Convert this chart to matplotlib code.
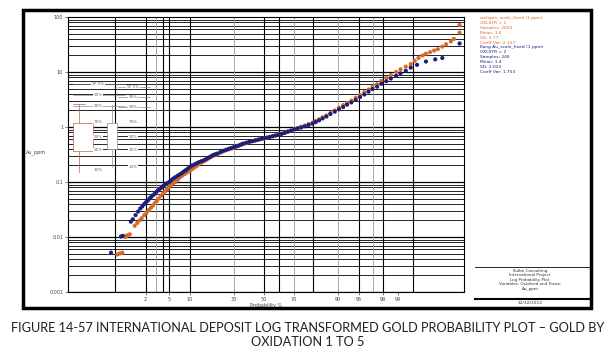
import numpy as np
import matplotlib
matplotlib.use("Agg")
import matplotlib.pyplot as plt
from matplotlib.patches import Rectangle
from matplotlib.lines import Line2D
from statistics import NormalDist

# --- data (cumulative probability %, Au ppm) ---
ox1_prob = [0.55, 0.62, 0.70, 0.80, 0.85, 0.90, 1.0, 1.25, 1.4, 1.55, 1.7, 1.9, 2.1, 2.3,
            2.5, 2.7, 2.9, 3.15, 3.4, 3.7, 4.0, 4.3, 4.6, 4.95, 5.3, 5.75, 6.2, 6.7, 7.2,
            7.8, 8.5, 9.2, 10, 10.7, 11.5, 12.2, 13, 14, 15, 16, 17, 18, 19, 20, 21, 22.5,
            24, 25.5, 27, 28.5, 30, 31.5, 33, 34.5, 36, 38, 40, 42, 44, 46, 48, 50, 52,
            54, 56, 58, 60, 62, 64, 66, 68, 70, 72, 74, 76, 78, 80, 81.5, 83, 84.5, 86,
            87.5, 89, 90.3, 91.5, 92.5, 93.5, 94.4, 95.2, 95.9, 96.5, 97.0, 97.5, 97.9,
            98.3, 98.6, 98.9, 99.1, 99.3, 99.45, 99.55, 99.63, 99.7, 99.75, 99.8, 99.84,
            99.87, 99.9, 99.92, 99.94, 99.95, 99.965, 99.965]
ox1_au = [0.0048, 0.0050, 0.0052, 0.0100, 0.0104, 0.0108, 0.0112, 0.016, 0.018, 0.020,
          0.022, 0.025, 0.028, 0.031, 0.034, 0.037, 0.041, 0.045, 0.050, 0.056, 0.062,
          0.067, 0.073, 0.080, 0.087, 0.094, 0.10, 0.11, 0.12, 0.13, 0.14, 0.15, 0.16,
          0.172, 0.185, 0.197, 0.21, 0.225, 0.24, 0.255, 0.27, 0.285, 0.30, 0.31, 0.32,
          0.34, 0.36, 0.375, 0.39, 0.405, 0.42, 0.44, 0.46, 0.475, 0.49, 0.51, 0.53, 0.55,
          0.57, 0.585, 0.60, 0.62, 0.64, 0.66, 0.68, 0.705, 0.73, 0.76, 0.79, 0.83, 0.87,
          0.91, 0.96, 1.01, 1.06, 1.13, 1.20, 1.29, 1.38, 1.50, 1.62, 1.80, 2.0, 2.25,
          2.5, 2.75, 3.0, 3.4, 3.8, 4.3, 4.8, 5.4, 6.0, 6.9, 7.8, 8.8, 10, 11.2, 12.5, 14,
          16, 18, 20, 21.5, 23, 24.5, 26, 29, 32, 36, 40, 52, 72]

ox2_prob = [0.40, 0.66, 0.72, 1.05, 1.15, 1.3, 1.45, 1.6, 1.75, 1.9, 2.05, 2.2, 2.35, 2.5,
            2.7, 2.9, 3.1, 3.3, 3.55, 3.8, 4.05, 4.3, 4.65, 5.0, 5.4, 5.8, 6.2, 6.7, 7.2,
            7.7, 8.2, 8.8, 9.4, 10, 10.7, 11.5, 12.2, 13, 14, 15, 16, 17, 18, 19, 20, 21,
            22.5, 24, 25.5, 27, 28.5, 30, 31.5, 33, 34.5, 36, 38, 40, 42, 44, 46, 48, 50,
            52, 54, 56, 58, 60, 62, 64, 66, 68, 70, 72, 74, 76, 78, 80, 81.5, 83, 84.5, 86,
            87.5, 89, 90.3, 91.5, 92.5, 93.5, 94.4, 95.2, 95.9, 96.5, 97.0, 97.5, 97.9,
            98.3, 98.6, 98.9, 99.1, 99.3, 99.45, 99.6, 99.75, 99.85, 99.90, 99.965]
ox2_au = [0.0052, 0.0102, 0.0105, 0.019, 0.021, 0.025, 0.029, 0.033, 0.036, 0.040, 0.043,
          0.046, 0.050, 0.053, 0.057, 0.061, 0.066, 0.070, 0.075, 0.080, 0.085, 0.090,
          0.095, 0.10, 0.108, 0.115, 0.122, 0.13, 0.137, 0.145, 0.155, 0.165, 0.177, 0.19,
          0.20, 0.21, 0.22, 0.23, 0.24, 0.25, 0.265, 0.28, 0.295, 0.31, 0.32, 0.33, 0.35,
          0.37, 0.385, 0.40, 0.415, 0.43, 0.445, 0.46, 0.48, 0.50, 0.52, 0.54, 0.555, 0.57,
          0.59, 0.61, 0.625, 0.64, 0.66, 0.68, 0.70, 0.72, 0.75, 0.78, 0.82, 0.86, 0.90,
          0.94, 0.98, 1.03, 1.09, 1.15, 1.23, 1.32, 1.43, 1.55, 1.72, 1.9, 2.1, 2.3, 2.55,
          2.8, 3.1, 3.5, 3.9, 4.4, 4.9, 5.4, 6.1, 6.8, 7.6, 8.5, 9.4, 10.5, 12, 13.5, 15.5,
          17, 18, 33]

x_ticks = [2, 5, 10, 30, 50, 70, 90, 95, 98, 99]
x_grid_dark = [0.5, 2, 4, 5, 10, 50, 60, 80, 95, 98, 99.5]
x_grid_light = [3, 30, 70, 90, 97]
y_ticks = [0.001, 0.01, 0.1, 1, 10, 100]
y_ticklabels = ["0.001", "0.01", "0.1", "1", "10", "100"]

stats1 = ["weligen_scale_fixed (1 ppm)", "OXCSTR = 1", "Samples: 2603", "Mean: 1.6",
          "SD: 2.77", "Coeff Var: 2.157"]
stats2 = ["Kang Au_scale_fixed (1 ppm)", "OXCSTR = 2", "Samples: 246", "Mean: 1.4",
          "SD: 2.023", "Coeff Var: 1.753"]
footer = ["Kulbe Consulting", "International Project", "Log Probability Plot",
          "Variables: Oxidised and Transi", "Au_ppm"]
footer_date = "12/12/2012"
pct_left = ["97.5%", "95%", "90%", "75%", "50%", "25%", "10%"]
pct_right = ["97.5%", "95%", "90%", "75%", "50%", "25%", "10%"]

ORANGE = "#d9692b"
NAVY = "#1c1f78"

_nd = NormalDist()


def prob_fwd(p):
    p = np.clip(np.asarray(p, dtype=float), 1e-4, 100 - 1e-4)
    return np.vectorize(lambda v: _nd.inv_cdf(v / 100.0), otypes=[float])(p)


def prob_inv(z):
    return np.vectorize(lambda v: 100.0 * _nd.cdf(v), otypes=[float])(np.asarray(z, dtype=float))


W, H = 616, 358


def fx(px):
    return px / W


def fy(py):
    return 1 - py / H


fig = plt.figure(figsize=(W / 100, H / 100), dpi=100)
ax = fig.add_axes([fx(68), fy(292), fx(464) - fx(68), fy(17) - fy(292)])
ax.set_xscale("function", functions=(prob_fwd, prob_inv))
ax.set_yscale("log")
ax.set_xlim(0.034, 99.9736)
ax.set_ylim(0.001, 100)

# grid
for d in [0.001, 0.01, 0.1, 1, 10]:
    for k in range(1, 10):
        ax.axhline(d * k, color="black", lw=0.9 if k == 1 else 0.6, zorder=1)
for p in x_grid_dark:
    ax.axvline(p, color="black", lw=0.8, zorder=1)
for p in x_grid_light:
    ax.axvline(p, color="#9a9a9a", lw=0.6, zorder=1)

ax.scatter(ox1_prob, ox1_au, s=9, color=ORANGE, edgecolors="none", zorder=3)
ax.scatter(ox2_prob, ox2_au, s=9, color=NAVY, edgecolors="none", zorder=4)

ax.set_xticks(x_ticks)
ax.set_xticklabels([str(t) for t in x_ticks])
ax.xaxis.set_minor_locator(matplotlib.ticker.NullLocator())
ax.set_yticks(y_ticks)
ax.set_yticklabels(y_ticklabels)
ax.yaxis.set_minor_locator(matplotlib.ticker.NullLocator())
ax.tick_params(labelsize=3.5, length=2, width=0.5, pad=1.5, colors="#444444")
for s in ax.spines.values():
    s.set_linewidth(0.8)
ax.set_xlabel("Probability %", fontsize=3.5, labelpad=1, color="#444444")
fig.text(fx(26), fy(152), "Au_ppm", fontsize=3.5, color="#444444", va="center")

# percentile key (box sketches)
T = ax.transAxes


def ay(py):
    return (292 - py) / 275


def axx(px):
    return (px - 68) / 396


left_y = [84, 95, 106, 122, 137, 150, 170]
right_y = [87, 97, 107, 122, 137, 150, 167]
ax.add_line(Line2D([axx(79)] * 2, [ay(104), ay(172)], transform=T, color="#b5654a", lw=0.5, zorder=5))
ax.add_line(Line2D([axx(73), axx(85)], [ay(104)] * 2, transform=T, color="#b5654a", lw=0.5, zorder=5))
ax.add_patch(Rectangle((axx(73), ay(151)), axx(93) - axx(73), ay(123) - ay(151), transform=T,
                       facecolor="white", edgecolor="#b5654a", lw=0.5, zorder=6))
ax.add_line(Line2D([axx(112)] * 2, [ay(105), ay(167)], transform=T, color="#8c8c8c", lw=0.5, zorder=5))
ax.add_patch(Rectangle((axx(107), ay(149)), axx(117) - axx(107), ay(123) - ay(149), transform=T,
                       facecolor="white", edgecolor="#8c8c8c", lw=0.5, zorder=6))
for lab, py in zip(pct_left[:3], left_y[:3]):
    ax.add_line(Line2D([axx(73), axx(125)], [ay(py)] * 2, transform=T, color="#777777", lw=0.4, zorder=5))
for lab, py in zip(pct_right[:3], right_y[:3]):
    ax.add_line(Line2D([axx(118), axx(150)], [ay(py)] * 2, transform=T, color="#777777", lw=0.4, zorder=5))
for lab, py in zip(pct_left, left_y):
    ax.text(axx(98), ay(py), lab, transform=T, fontsize=3, color="#666666", ha="center", va="center",
            zorder=7, bbox=dict(facecolor="white", edgecolor="none", pad=0.3))
for lab, py in zip(pct_right, right_y):
    ax.text(axx(133), ay(py), lab, transform=T, fontsize=3, color="#666666", ha="center", va="center",
            zorder=7, bbox=dict(facecolor="white", edgecolor="none", pad=0.3))

# outer frame
fig.add_artist(Rectangle((fx(23), fy(308)), fx(591) - fx(23), fy(10) - fy(308),
                         transform=fig.transFigure, fill=False, lw=2.5, color="black"))

# stats text
y0 = 18
for i, t in enumerate(stats1):
    fig.text(fx(480), fy(y0 + i * 4.9), t, fontsize=3.2, color=ORANGE, va="center")
for i, t in enumerate(stats2):
    fig.text(fx(480), fy(y0 + (i + 6) * 4.9), t, fontsize=3.2, color=NAVY, va="center")

# footer block
fig.add_artist(Line2D([fx(475), fx(591)], [fy(267)] * 2, transform=fig.transFigure, color="black", lw=0.6))
fig.add_artist(Line2D([fx(475), fx(591)], [fy(299)] * 2, transform=fig.transFigure, color="black", lw=1.5))
for i, t in enumerate(footer):
    fig.text(fx(530), fy(271 + i * 4.4), t, fontsize=3.0, color="#333333", ha="center", va="center")
fig.text(fx(530), fy(303.5), footer_date, fontsize=3.2, color="#333333", ha="center", va="center")

# caption
fig.text(0.5, fy(328), "FIGURE 14-57 INTERNATIONAL DEPOSIT LOG TRANSFORMED GOLD PROBABILITY PLOT \u2013 GOLD BY",
         fontsize=9.2, family="Lato", color="#231f20", ha="center", va="center")
fig.text(0.5, fy(342), "OXIDATION 1 TO 5", fontsize=9.2, family="Lato", color="#231f20",
         ha="center", va="center")

fig.savefig("out.png", dpi=100, facecolor="white")
